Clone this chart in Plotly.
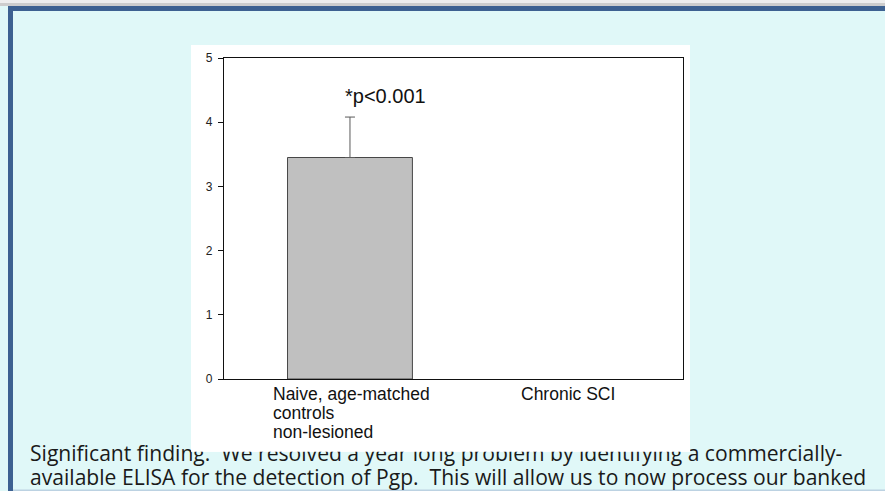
import plotly.graph_objects as go

# Page size in pixels
W, H = 885, 491

# ---- data -------------------------------------------------------------
categories = ["Naive, age-matched\ncontrols\nnon-lesioned", "Chronic SCI"]
means = [3.45, 0.0]
err_plus = [0.63, 0.0]
y_ticks = [0, 1, 2, 3, 4, 5]
significance = "*p<0.001"
paragraph = [
    "Significant finding.  We resolved a year long problem by identifying a commercially-",
    "available ELISA for the detection of Pgp.  This will allow us to now process our banked",
]

# ---- style ------------------------------------------------------------
CYAN = "#e0f8f8"
BLUE = "#3d6191"
AXIS = "#111111"
ARIAL = "Liberation Sans, Arial, sans-serif"
BODY = "Open Sans, Carlito, Calibri, sans-serif"
BODY_SIZE = 21.1
BODY_LEFT = 30
BODY_BASELINES = [460.7, 485.5]


def px(x):
    return x / W


def py(y):
    return 1 - y / H


def rect(x0, y0, x1, y1, color, layer="below"):
    return dict(type="rect", xref="paper", yref="paper",
                x0=px(x0), x1=px(x1), y0=py(y1), y1=py(y0),
                fillcolor=color, line=dict(width=0), layer=layer)


# empty groups get no outline and no error whisker
has_value = [v > 0 for v in means]

fig = go.Figure()

fig.add_trace(go.Bar(
    x=categories, y=means, width=0.573,
    marker=dict(color="#c0c0c0",
                opacity=[1 if h else 0 for h in has_value],
                line=dict(color="#474747",
                          width=[1 if h else 0 for h in has_value])),
    hoverinfo="skip", showlegend=False,
))

# Upper error whiskers, only for groups with a measured value
fig.add_trace(go.Scatter(
    x=[c for c, h in zip(categories, has_value) if h],
    y=[m for m, h in zip(means, has_value) if h],
    mode="markers", marker=dict(size=1, opacity=0),
    error_y=dict(type="data", symmetric=False,
                 array=[e for e, h in zip(err_plus, has_value) if h],
                 arrayminus=[0 for h in has_value if h],
                 color="#5a5a5a", thickness=1, width=5),
    hoverinfo="skip", showlegend=False,
))

# Slide body text below the chart, placed on pixel-space overlay axes
# (text baseline sits 0.75 em below the anchor for "bottom" positioning)
fig.add_trace(go.Scatter(
    x=[BODY_LEFT] * len(paragraph),
    y=[b - 0.75 * BODY_SIZE for b in BODY_BASELINES],
    mode="text", text=paragraph, textposition="bottom right",
    textfont=dict(family=BODY, size=BODY_SIZE, color="#1a1a1a"),
    xaxis="x2", yaxis="y2", hoverinfo="skip", showlegend=False,
))

# Category labels under the axis, lines left-aligned within each block
LINE_STEP = 19.2
BLOCK_HALF = 79
annotations = []
for cat in categories:
    lines = cat.split("\n")
    multi = len(lines) > 1
    for i, line in enumerate(lines):
        annotations.append(dict(
            x=cat, y=0, xref="x", yref="y", text=line, showarrow=False,
            xanchor="left" if multi else "center",
            xshift=-BLOCK_HALF if multi else 0,
            yanchor="top", yshift=-3 - i * LINE_STEP,
            font=dict(family=ARIAL, size=17.5, color="#111111"),
        ))

annotations.append(dict(
    x=categories[0], y=means[0] + err_plus[0], xref="x", yref="y",
    text=significance, showarrow=False, xanchor="center", yanchor="bottom",
    xshift=36, yshift=8,
    font=dict(family=ARIAL, size=20, color="#111111"),
))

shapes = [
    rect(0, 0, W, 3, "#eeeeee"),
    rect(0, 3, W, 6, "#cdcdcd"),
    rect(8, 6, W, 11, BLUE),
    rect(8, 6, 13, H, BLUE),
    rect(13, 489.5, W, H, "#bcd2e2"),
    rect(191, 45, 690, 451.7, "white"),
    # chart panel overlaps the top of the first text line
    rect(191, 440, 690, 451.7, "white", layer="above"),
]

fig.update_layout(
    width=W, height=H,
    margin=dict(l=0, r=0, t=0, b=0, autoexpand=False),
    paper_bgcolor=CYAN,
    plot_bgcolor="rgba(0,0,0,0)",
    showlegend=False,
    hovermode=False,
    shapes=shapes,
    annotations=annotations,
    xaxis=dict(
        domain=[px(224), px(683)], type="category",
        categoryorder="array", categoryarray=categories,
        range=[-0.578, 1.528], showticklabels=False, ticks="",
        showline=True, mirror=True, linecolor=AXIS, linewidth=1.2,
        showgrid=False, zeroline=False, fixedrange=True, automargin=False,
    ),
    yaxis=dict(
        domain=[py(379), py(58)], range=[0, 5], tickvals=y_ticks,
        ticks="outside", ticklen=5, tickwidth=1, tickcolor=AXIS,
        ticklabelstandoff=3,
        tickfont=dict(family=ARIAL, size=12, color="#222222"),
        showline=True, mirror=True, linecolor=AXIS, linewidth=1.2,
        showgrid=False, zeroline=False, fixedrange=True, automargin=False,
    ),
    xaxis2=dict(domain=[0, 1], range=[0, W], visible=False,
                fixedrange=True, automargin=False),
    yaxis2=dict(domain=[0, 1], range=[H, 0], visible=False,
                fixedrange=True, automargin=False, anchor="x2"),
)

fig.write_html("out.html")
